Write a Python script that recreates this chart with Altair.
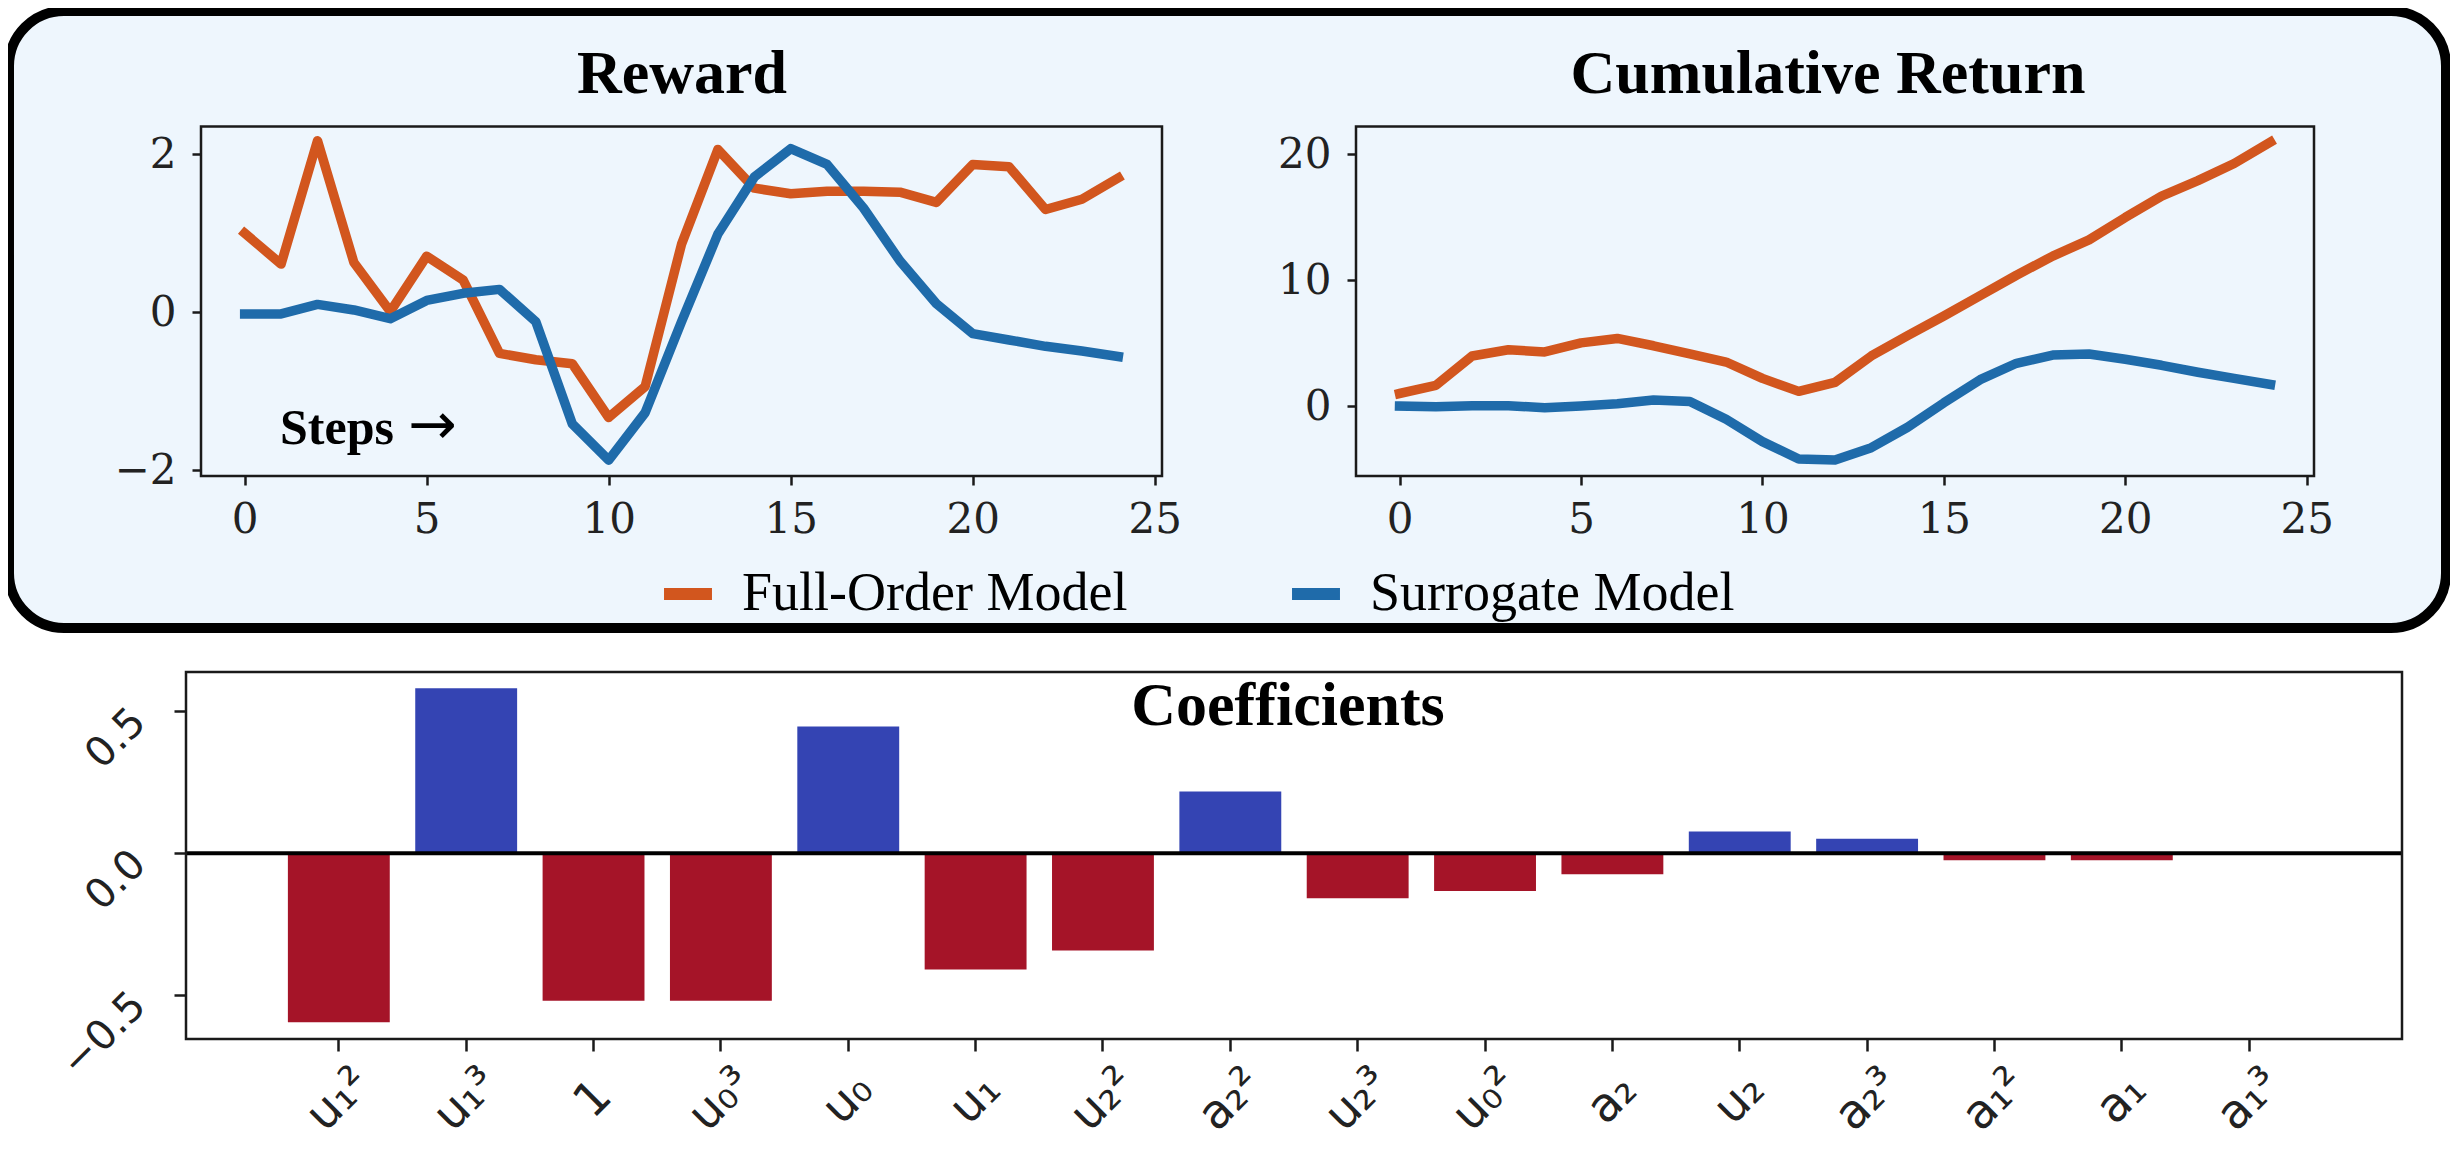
import altair as alt
import pandas as pd

# ---------------- data ----------------
steps = list(range(25))
series_names = ["Full-Order Model", "Surrogate Model"]

reward_full = [1.00, 0.61, 2.17, 0.63, 0.01, 0.71, 0.41, -0.52, -0.60, -0.65, -1.33, -0.94,
               0.86, 2.06, 1.57, 1.50, 1.53, 1.53, 1.52, 1.39, 1.87, 1.84, 1.30, 1.43, 1.70]
reward_sur = [-0.02, -0.02, 0.10, 0.03, -0.08, 0.15, 0.24, 0.29, -0.12, -1.41, -1.87, -1.27,
              -0.12, 0.99, 1.71, 2.07, 1.87, 1.32, 0.65, 0.11, -0.27, -0.35, -0.43, -0.49, -0.56]
cum_full = [1.00, 1.65, 3.98, 4.47, 4.30, 5.02, 5.37, 4.79, 4.14, 3.50, 2.20, 1.17,
            1.88, 3.98, 5.60, 7.15, 8.77, 10.39, 11.91, 13.20, 14.98, 16.67, 17.90, 19.26, 20.97]
cum_sur = [0.00, -0.06, 0.03, 0.03, -0.13, 0.00, 0.19, 0.49, 0.36, -1.04, -2.82, -4.20,
           -4.27, -3.30, -1.68, 0.26, 2.10, 3.40, 4.05, 4.14, 3.72, 3.24, 2.69, 2.20, 1.72]

terms = ["u\u2081\u00b2", "u\u2081\u00b3", "1", "u\u2080\u00b3", "u\u2080", "u\u2081", "u\u2082\u00b2",
         "a\u2082\u00b2", "u\u2082\u00b3", "u\u2080\u00b2", "a\u2082", "u\u2082", "a\u2082\u00b3",
         "a\u2081\u00b2", "a\u2081", "a\u2081\u00b3"]
coefs = [-0.596, 0.582, -0.520, -0.520, 0.447, -0.410, -0.343, 0.218, -0.159, -0.133,
         -0.074, 0.077, 0.051, -0.025, -0.025, 0.0]

reward_ticks = [-2, 0, 2]
cum_ticks = [0, 10, 20]
step_ticks = [0, 5, 10, 15, 20, 25]
coef_ticks = [-0.5, 0.0, 0.5]

# ---------------- styles ----------------
ORANGE = "#D2561E"
BLUE = "#1F6BAA"
BAR_BLUE = "#3444B3"
BAR_RED = "#A51428"
BG = "#EEF6FD"
INK = "#1a1a1a"
W, H = 2442, 1138
MINUS = "\u2212"


def long_df(a, b):
    return pd.DataFrame({
        "step": steps * 2,
        "value": a + b,
        "series": [series_names[0]] * len(a) + [series_names[1]] * len(b),
    })


reward_df = long_df(reward_full, reward_sur)
cum_df = long_df(cum_full, cum_sur)
coef_df = pd.DataFrame({"term": terms, "coef": coefs})
one = pd.DataFrame({"k": [0]})

color_scale = alt.Scale(domain=series_names, range=[ORANGE, BLUE])
legend = alt.Legend(
    title=None, orient="none", legendX=650, legendY=556, direction="horizontal",
    labelFont="Liberation Serif", labelFontSize=54, labelColor="black",
    symbolType="stroke", symbolStrokeWidth=12, symbolSize=2300,
    labelOffset=24, columnPadding=140, padding=0, labelLimit=1000,
)

top_axis = dict(title=None, domain=False, grid=False, ticks=True, tickSize=9, tickWidth=2.5,
                tickColor=INK, labelFont="DejaVu Serif", labelFontSize=42, labelColor="#222222",
                zindex=1, labelFlush=False, labelOverlap=False)

PANEL_TOP, PANEL_BOT = 118.5, 468


def line_panel(df, x0, x1, ydom, yvals):
    return alt.Chart(df).mark_line(strokeWidth=9.5, strokeJoin="round", strokeCap="square").encode(
        x=alt.X("step:Q",
                scale=alt.Scale(domain=[-1.2, 25.2], range=[x0, x1], nice=False, zero=False),
                axis=alt.Axis(orient="bottom", offset=PANEL_BOT - H, values=step_ticks,
                              labelPadding=14, labelAlign="center", labelBaseline="top",
                              labelAngle=0, **top_axis)),
        y=alt.Y("value:Q",
                scale=alt.Scale(domain=ydom, range=[PANEL_BOT, PANEL_TOP], nice=False, zero=False),
                axis=alt.Axis(orient="left", offset=-x0, values=yvals, labelPadding=16,
                              labelAlign="right", labelBaseline="middle",
                              labelExpr="replace(format(datum.value, 'd'), '-', '" + MINUS + "')",
                              **top_axis)),
        color=alt.Color("series:N", scale=color_scale, legend=legend),
    )


def frame(x1, x2, y1, y2):
    return alt.Chart(one).mark_rect(fillOpacity=0, stroke=INK, strokeWidth=2.5).encode(
        x=alt.value(x1), x2=alt.value(x2), y=alt.value(y1), y2=alt.value(y2))


def label(text, x, y, size, bold=True, align="center", font="Liberation Serif"):
    return alt.Chart(one).mark_text(
        text=text, font=font, fontWeight="bold" if bold else "normal",
        fontSize=size, align=align, baseline="alphabetic", color="black",
    ).encode(x=alt.value(x), y=alt.value(y))


box = alt.Chart(one).mark_rect(fill=BG, stroke="black", strokeWidth=10, cornerRadius=55).encode(
    x=alt.value(1), x2=alt.value(2438), y=alt.value(3), y2=alt.value(620))

reward = line_panel(reward_df, 193, 1154, [-2.07, 2.35], reward_ticks)
cumret = line_panel(cum_df, 1348, 2306, [-5.55, 22.2], cum_ticks)

# ---------------- coefficient bars ----------------
BX0, BX1, BY_BOT, BY_TOP = 178, 2394, 1031, 664
coef_dom = [-0.655, 0.639]
bot_axis = dict(title=None, domain=False, grid=False, ticks=True, tickSize=12, tickWidth=2.5,
                tickColor=INK, labelFont="DejaVu Sans", labelColor="#222222",
                zindex=1, labelFlush=False, labelOverlap=False, labelAngle=-45)

bars = alt.Chart(coef_df).mark_bar().encode(
    x=alt.X("term:N", sort=terms,
            scale=alt.Scale(range=[BX0, BX1], paddingInner=0.2, paddingOuter=0.8),
            axis=alt.Axis(orient="bottom", offset=BY_BOT - H, labelPadding=48, labelFontSize=47,
                          labelAlign="center", labelBaseline="middle", **bot_axis)),
    y=alt.Y("coef:Q",
            scale=alt.Scale(domain=coef_dom, range=[BY_BOT, BY_TOP], nice=False, zero=False),
            axis=alt.Axis(orient="left", offset=-BX0, values=coef_ticks, labelPadding=35,
                          labelOffset=4, labelAlign="right", labelBaseline="middle", labelFontSize=41,
                          labelExpr="replace(format(datum.value, '.1f'), '-', '" + MINUS + "')",
                          **bot_axis)),
    y2=alt.datum(0),
    color=alt.condition("datum.coef > 0", alt.value(BAR_BLUE), alt.value(BAR_RED)),
)

zero_rule = alt.Chart(one).mark_rule(color="black", strokeWidth=4).encode(
    y=alt.Y(datum=0, scale=alt.Scale(domain=coef_dom, range=[BY_BOT, BY_TOP], nice=False, zero=False),
            axis=None),
    x=alt.value(BX0), x2=alt.value(BX1),
)

chart = alt.layer(
    box,
    reward,
    cumret,
    bars,
    zero_rule,
    frame(193, 1154, PANEL_TOP, PANEL_BOT),
    frame(1348, 2306, PANEL_TOP, PANEL_BOT),
    frame(BX0, BX1, BY_TOP, BY_BOT),
    label("Reward", 674, 85, 62),
    label("Cumulative Return", 1820, 85, 62),
    label("Coefficients", 1280, 717, 62),
    label("Steps", 272, 436, 50, align="left"),
    label("\u2192", 400, 436, 58, bold=False, align="left", font="DejaVu Sans"),
).resolve_scale(x="independent", y="independent").resolve_axis(
    x="independent", y="independent"
).properties(
    width=W, height=H, autosize=alt.AutoSizeParams(type="none"), padding=0,
).configure_view(strokeWidth=0)

chart.save("out.html", embed_options={"renderer": "svg", "actions": False})
